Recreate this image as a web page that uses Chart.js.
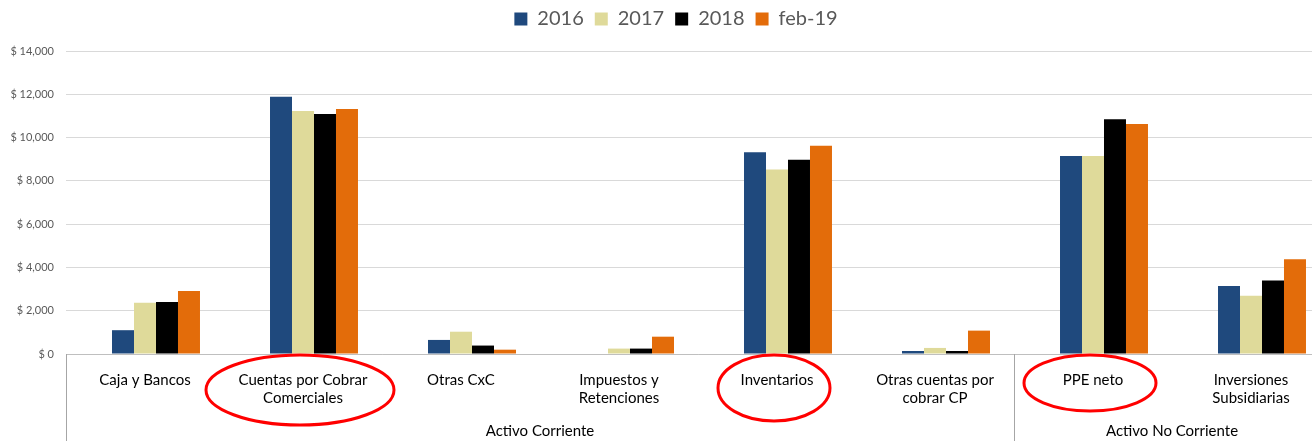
<!DOCTYPE html>
<html>
<head>
<meta charset="utf-8">
<script src="https://cdn.jsdelivr.net/npm/chart.js@4.4.1/dist/chart.umd.min.js"></script>
<style>
  html, body { margin: 0; padding: 0; background: #fff; overflow: hidden; }
  #wrap { width: 1330px; height: 441px; }
</style>
</head>
<body>
<div id="wrap"><canvas id="c" width="1330" height="441"></canvas></div>
<script>
// categorías del eje X (multi-línea) y grupos
const categories = [
  ['Caja y Bancos'],
  ['Cuentas por Cobrar', 'Comerciales'],
  ['Otras CxC'],
  ['Impuestos y', 'Retenciones'],
  ['Inventarios'],
  ['Otras cuentas por', 'cobrar CP'],
  ['PPE neto'],
  ['Inversiones', 'Subsidiarias']
];
const groupNames = ['Activo Corriente', 'Activo No Corriente'];
const groupSizes = [6, 2];
const circled = [1, 4, 6]; // etiquetas marcadas en rojo

const seriesNames = ['2016', '2017', '2018', 'feb-19'];
const v2016  = [1100, 11890,  650,    0, 9320,  140,  9150, 3140];
const v2017  = [2370, 11230, 1030,  250, 8530,  280,  9150, 2690];
const v2018  = [2400, 11090,  390,  250, 8980,  140, 10850, 3400];
const vFeb19 = [2910, 11320,  200,  800, 9620, 1080, 10630, 4380];
const colors = ['#1F497D', '#DFDA9A', '#000000', '#E36C0A'];

const yTicks = [0, 2000, 4000, 6000, 8000, 10000, 12000, 14000];

// serie vacía que Excel deja al inicio de cada grupo
const spacer = categories.map(() => null);

const FONT = 'Lato, "Open Sans", sans-serif';

// mueve la leyenda un poco (Excel no la centra igual)
const legendNudge = {
  id: 'legendNudge',
  afterLayout(chart) {
    const lg = chart.legend;
    if (!lg) return;
    lg.top -= 12; lg.bottom -= 12;
    lg.left += 11; lg.right += 11;
  }
};

const groupAxis = {
  id: 'groupAxis',
  afterDraw(chart) {
    const ctx = chart.ctx;
    const x = chart.scales.x;
    const top = x.top;
    const bottom = chart.height;
    const step = x.getPixelForValue(1) - x.getPixelForValue(0);
    ctx.save();
    ctx.strokeStyle = '#A6A6A6';
    ctx.lineWidth = 1;
    ctx.fillStyle = '#000';
    ctx.font = '15px ' + FONT;
    ctx.textAlign = 'center';
    ctx.textBaseline = 'middle';
    let start = 0;
    groupSizes.forEach((n, g) => {
      const left = x.getPixelForValue(start) - step / 2;
      const right = x.getPixelForValue(start + n - 1) + step / 2;
      ctx.beginPath();
      ctx.moveTo(Math.round(left) + 0.5, top);
      ctx.lineTo(Math.round(left) + 0.5, bottom);
      ctx.stroke();
      ctx.fillText(groupNames[g], (left + right) / 2, 431);
      start += n;
    });
    // elipses rojas alrededor de las etiquetas
    ctx.strokeStyle = '#FF0000';
    ctx.lineWidth = 3;
    const sizes = { 1: [94, 35, 36], 4: [56, 33, 34], 6: [66, 28, 29] };
    circled.forEach(i => {
      const s = sizes[i];
      const cx = x.getPixelForValue(i) - 3;
      ctx.beginPath();
      ctx.ellipse(cx, top + s[2], s[0], s[1], 0, 0, Math.PI * 2);
      ctx.stroke();
    });
    ctx.restore();
  }
};

new Chart(document.getElementById('c'), {
  type: 'bar',
  data: {
    labels: categories,
    datasets: [
      { label: '', data: spacer, backgroundColor: 'rgba(0,0,0,0)' },
      { label: seriesNames[0], data: v2016, backgroundColor: colors[0] },
      { label: seriesNames[1], data: v2017, backgroundColor: colors[1] },
      { label: seriesNames[2], data: v2018, backgroundColor: colors[2] },
      { label: seriesNames[3], data: vFeb19, backgroundColor: colors[3] }
    ]
  },
  options: {
    responsive: false,
    animation: false,
    layout: { padding: { top: 10, left: 0, right: 0, bottom: 0 } },
    datasets: { bar: { categoryPercentage: 0.696, barPercentage: 1.0 } },
    plugins: {
      tooltip: { enabled: false },
      legend: {
        position: 'top',
        labels: {
          filter: item => item.text !== '',
          boxWidth: 13, boxHeight: 13, padding: 11,
          color: '#595959',
          font: { family: FONT, size: 20 }
        }
      }
    },
    scales: {
      x: {
        grid: { display: false, drawTicks: false },
        border: { display: true, color: '#BFBFBF' },
        ticks: {
          color: '#000', padding: 17, maxRotation: 0, autoSkip: false,
          font: { family: FONT, size: 15, lineHeight: 1.2 }
        },
        afterFit: s => { s.height = 87; }
      },
      y: {
        min: 0, max: 14000,
        afterBuildTicks: s => { s.ticks = yTicks.map(v => ({ value: v })); },
        grid: { color: '#D9D9D9', drawTicks: false },
        border: { display: false },
        ticks: {
          color: '#595959', padding: 12,
          font: { family: FONT, size: 11 },
          callback: v => '$ ' + v.toLocaleString('en-US')
        },
        afterFit: s => { s.width = 66; }
      }
    }
  },
  plugins: [legendNudge, groupAxis]
});
</script>
</body>
</html>
